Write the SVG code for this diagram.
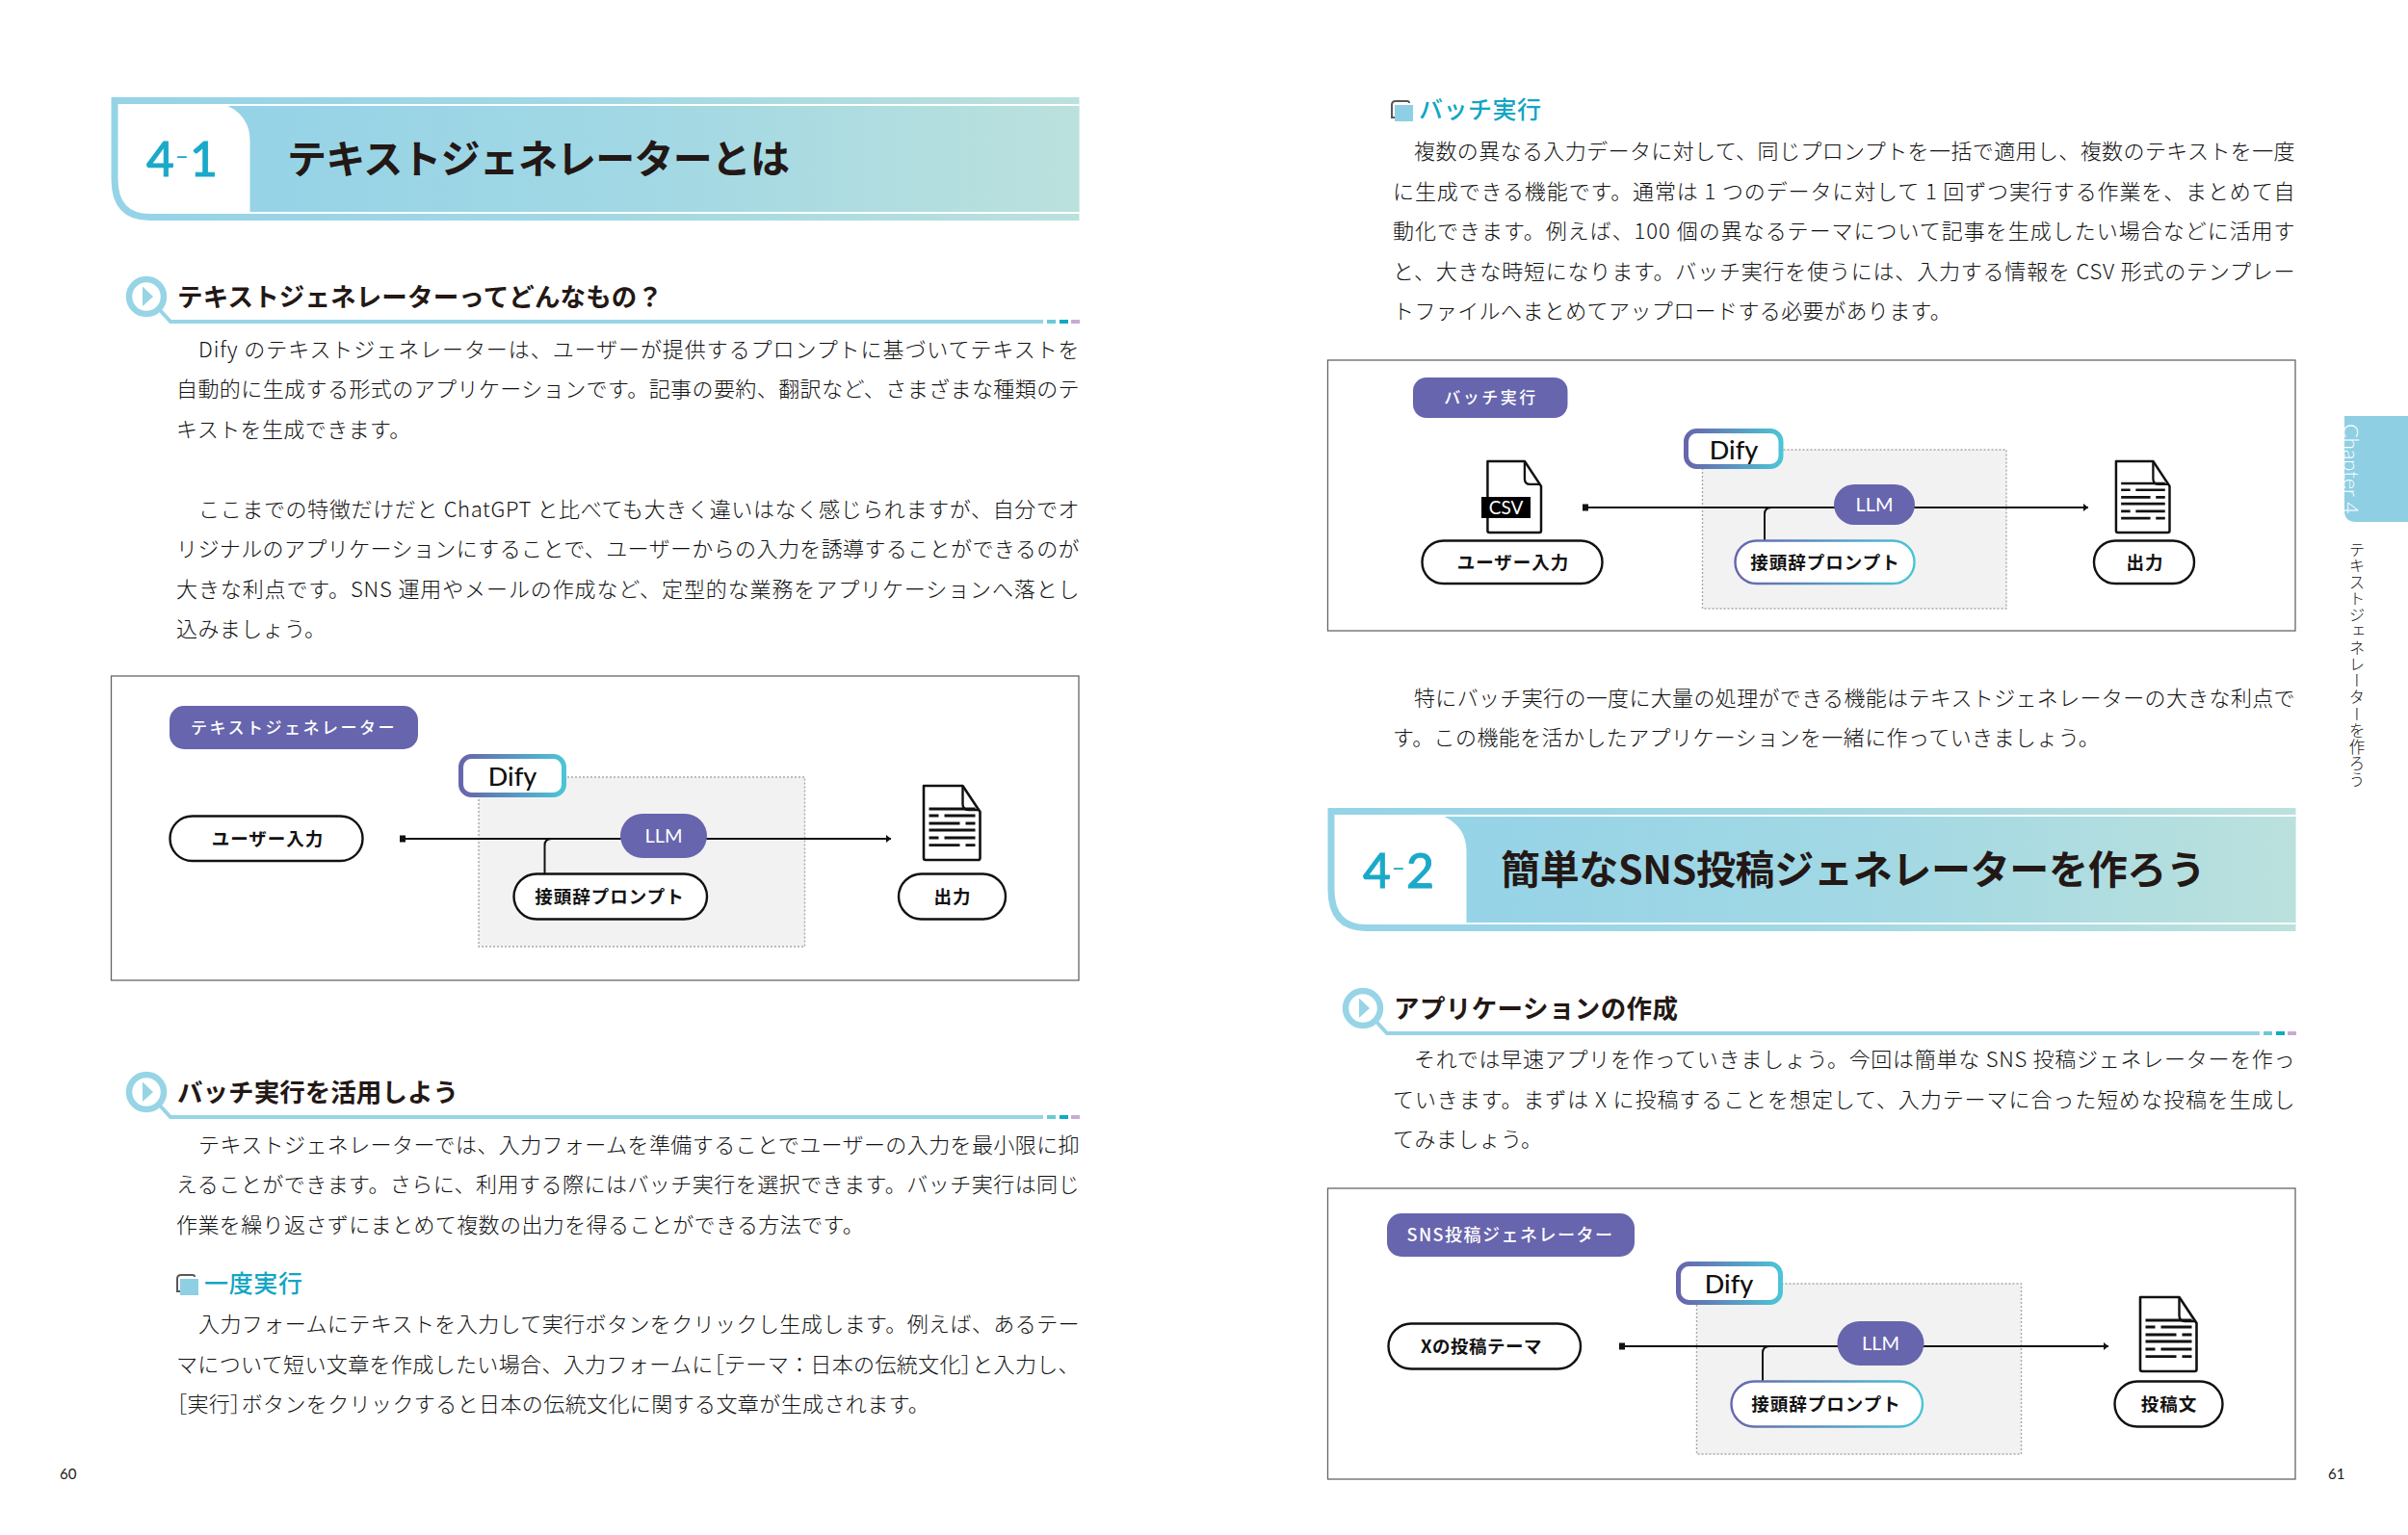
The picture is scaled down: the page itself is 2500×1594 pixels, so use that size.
<svg xmlns="http://www.w3.org/2000/svg" width="2500" height="1594" viewBox="0 0 2500 1594">
<style>
text{font-family:"Noto Sans CJK JP","Noto Sans",sans-serif}
.b{font-size:22px;font-weight:300;fill:#111;letter-spacing:.4px}
.br{font-feature-settings:"palt"}
.t{font-size:41px;font-weight:700;fill:#231815}
.n{font-size:50px;font-family:"Lato","Noto Sans",sans-serif;font-weight:500;fill:#1aa9c8;stroke:#1aa9c8;stroke-width:.8px}
.hy{font-size:42px;stroke:none;font-weight:300}
.h{font-size:26.500px;font-weight:700;fill:#231815}
.s{font-size:25px;font-weight:500;fill:#12a5c4}
.p{font-size:17px;font-weight:500;fill:#fff;text-anchor:middle;letter-spacing:2.500px}
.w{font-size:18.500px;font-weight:700;fill:#111;text-anchor:middle;letter-spacing:1px}
.d{font-size:27px;font-family:"Lato","Noto Sans",sans-serif;font-weight:500;fill:#111;text-anchor:middle}
.l{font-size:20px;font-family:"Lato","Noto Sans",sans-serif;fill:#fff;text-anchor:middle}
.pg{font-size:15px;font-family:"Lato","Noto Sans",sans-serif;fill:#231815}
.box{fill:#fff;stroke:#666;stroke-width:1.300}
.zone{fill:#f2f2f2;stroke:#a8a8a8;stroke-width:1.400;stroke-dasharray:2 2}
.pillp{fill:#6765ad}
.node{fill:#fff;stroke:#111;stroke-width:2.400}
.gnode{fill:#fff;stroke:url(#brand);stroke-width:2.400}
.dify{fill:#fff;stroke:url(#brand);stroke-width:5}
.con{fill:none;stroke:#111;stroke-width:2}
.main{marker-start:url(#sq);marker-end:url(#ar)}
</style>
<defs>
<linearGradient id="band" x1="0" y1="0" x2="1" y2="0"><stop offset="0" stop-color="#95d3e7"/><stop offset="0.5" stop-color="#a2d8e4"/><stop offset="1" stop-color="#bbe1dd"/></linearGradient>
<linearGradient id="brand" x1="0" y1="0" x2="1" y2="0"><stop offset="0" stop-color="#6765ad"/><stop offset="1" stop-color="#4cc4d6"/></linearGradient>
<marker id="sq" markerUnits="userSpaceOnUse" markerWidth="8" markerHeight="8" refX="1" refY="4" orient="auto"><rect x="0" y="0.500" width="6" height="7" fill="#111"/></marker>
<marker id="ar" markerUnits="userSpaceOnUse" markerWidth="6" markerHeight="10" refX="5" refY="5" orient="auto"><path d="M0 1L5 5L0 9Z" fill="#111"/></marker>
<g id="hdr">
<path d="M0 0H1005V128H40Q0 128 0 85Z" fill="url(#band)"/>
<path d="M7 7H1005V121H40Q7 121 7 85Z" fill="#fff"/>
<path d="M121 9H1005V119H144V45Q144 20 121 9Z" fill="url(#band)"/>
</g>
<g id="sec">
<circle cx="0" cy="0" r="18" fill="#fff" stroke="#97d4e6" stroke-width="6.500"/>
<path d="M-4-10.500L7 0L-4 10Z" fill="#97d4e6"/>
<path d="M14 14L25 26H931" fill="none" stroke="#97d4e6" stroke-width="4"/>
<rect x="935" y="24" width="9" height="4" fill="#6cc8d8"/>
<rect x="948" y="24" width="9" height="4" fill="#12a9c6"/>
<rect x="960" y="24" width="9" height="4" fill="#c9abd2"/>
</g>
<g id="ico">
<rect x="5" y="5" width="19" height="17" fill="#8fcfe3"/>
<path d="M2 19V5Q2 1 6 1H18Q20 1 20 3" fill="none" stroke="#595757" stroke-width="2"/>
<path d="M2 18H5" fill="none" stroke="#595757" stroke-width="2"/>
</g>
<g id="docb">
<path d="M1.500 1H42L60 28V76Q60 78 58 78H3.500Q1.500 78 1.500 76Z" fill="#fff" stroke="#111" stroke-width="2.600" stroke-linejoin="round"/>
<path d="M42 1V20Q42 26 48 26H59" fill="none" stroke="#111" stroke-width="2.400"/>
</g>
<g id="doc">
<use href="#docb"/>
<path d="M7 25H55M7 32H17M23 32H55M7 40H39M45 40H55M7 47H55M7 55H17M23 55H55M7 62.700H39M45 62.700H55" stroke="#111" stroke-width="2.800" fill="none"/>
</g>
</defs>
<rect width="2500" height="1594" fill="#fff"/>

<g id="header-4-1"><use href="#hdr" x="115.500" y="101"/>
<text class="n" x="152" y="183">4<tspan class="hy" x="181" dy="-8">-</tspan><tspan x="197" dy="8">1</tspan></text>
<text class="t" x="298" y="180" textLength="522">テキストジェネレーターとは</text></g>

<g id="sec-1"><use href="#sec" x="152" y="308"/><text class="h" x="184" y="318" textLength="504">テキストジェネレーターってどんなもの？</text></g>
<g id="body-1">
<text class="b" x="206" y="371" textLength="915">Dify のテキストジェネレーターは、ユーザーが提供するプロンプトに基づいてテキストを</text>
<text class="b" x="183" y="412" textLength="938">自動的に生成する形式のアプリケーションです。記事の要約、翻訳など、さまざまな種類のテ</text>
<text class="b" x="183" y="454">キストを生成できます。</text>
<text class="b" x="206" y="537" textLength="915">ここまでの特徴だけだと ChatGPT と比べても大きく違いはなく感じられますが、自分でオ</text>
<text class="b" x="183" y="578" textLength="938">リジナルのアプリケーションにすることで、ユーザーからの入力を誘導することができるのが</text>
<text class="b" x="183" y="620" textLength="938">大きな利点です。SNS 運用やメールの作成など、定型的な業務をアプリケーションへ落とし</text>
<text class="b" x="183" y="661">込みましょう。</text>
</g>

<g id="figure-1">
<rect class="box" x="115.500" y="702" width="1004.500" height="316"/>
<rect class="zone" x="497" y="807" width="338.500" height="176"/>
<g id="connectors-1">
<path class="con main" d="M416 871H925"/>
<path class="con" d="M565.500 907V878Q565.500 871 572.500 871"/>
</g>
<g id="n1-title"><rect class="pillp" x="176" y="733" width="258" height="45" rx="15"/><text class="p" x="305" y="762">テキストジェネレーター</text></g>
<g id="n1-dify"><rect class="dify" x="478.500" y="785.500" width="107" height="40" rx="11"/><text class="d" x="532" y="816">Dify</text></g>
<g id="n1-user"><rect class="node" x="176.500" y="847.500" width="200" height="46.500" rx="23"/><text class="w" x="278" y="878">ユーザー入力</text></g>
<g id="n1-llm"><rect class="pillp" x="644" y="845" width="90" height="46" rx="23"/><text class="l" x="689" y="875">LLM</text></g>
<g id="n1-prompt"><rect class="node" x="533.500" y="907.500" width="200.500" height="47" rx="23.500"/><text class="w" x="633" y="938">接頭辞プロンプト</text></g>
<g id="n1-doc"><use href="#doc" x="957.500" y="815"/></g>
<g id="n1-out"><rect class="node" x="933" y="907.500" width="111" height="47" rx="23.500"/><text class="w" x="989" y="938">出力</text></g>
</g>

<g id="sec-2"><use href="#sec" x="152" y="1134"/><text class="h" x="184" y="1144" textLength="292">バッチ実行を活用しよう</text></g>
<g id="body-2">
<text class="b" x="206" y="1197" textLength="915">テキストジェネレーターでは、入力フォームを準備することでユーザーの入力を最小限に抑</text>
<text class="b" x="183" y="1238" textLength="938">えることができます。さらに、利用する際にはバッチ実行を選択できます。バッチ実行は同じ</text>
<text class="b" x="183" y="1280">作業を繰り返さずにまとめて複数の出力を得ることができる方法です。</text>
</g>
<g id="sub-1"><use href="#ico" x="182" y="1323"/><text class="s" x="212" y="1342" textLength="102">一度実行</text></g>
<g id="body-3">
<text class="b" x="206" y="1383" textLength="915">入力フォームにテキストを入力して実行ボタンをクリックし生成します。例えば、あるテー</text>
<text class="b" x="183" y="1425" textLength="938">マについて短い文章を作成したい場合、入力フォームに<tspan class="br">［</tspan>テーマ：日本の伝統文化<tspan class="br">］</tspan>と入力し、</text>
<text class="b" x="183" y="1466"><tspan class="br">［</tspan>実行<tspan class="br">］</tspan>ボタンをクリックすると日本の伝統文化に関する文章が生成されます。</text>
</g>
<text class="pg" x="62" y="1536">60</text>

<g id="sub-2"><use href="#ico" x="1443" y="104"/><text class="s" x="1473" y="123" textLength="127">バッチ実行</text></g>
<g id="body-4">
<text class="b" x="1468" y="165" textLength="915">複数の異なる入力データに対して、同じプロンプトを一括で適用し、複数のテキストを一度</text>
<text class="b" x="1446" y="207" textLength="937">に生成できる機能です。通常は 1 つのデータに対して 1 回ずつ実行する作業を、まとめて自</text>
<text class="b" x="1446" y="248" textLength="937">動化できます。例えば、100 個の異なるテーマについて記事を生成したい場合などに活用す</text>
<text class="b" x="1446" y="290" textLength="937">と、大きな時短になります。バッチ実行を使うには、入力する情報を CSV 形式のテンプレー</text>
<text class="b" x="1446" y="331">トファイルへまとめてアップロードする必要があります。</text>
</g>

<g id="figure-2">
<rect class="box" x="1378.500" y="374" width="1004.500" height="281"/>
<rect class="zone" x="1767.500" y="467" width="315.500" height="165"/>
<g id="connectors-2">
<path class="con main" d="M1644 527H2168"/>
<path class="con" d="M1832 561V534Q1832 527 1839 527"/>
</g>
<g id="n2-title"><rect class="pillp" x="1467" y="392" width="160.500" height="42" rx="14"/><text class="p" x="1548" y="419">バッチ実行</text></g>
<g id="n2-dify"><rect class="dify" x="1750.500" y="447.500" width="98.500" height="37" rx="11"/><text class="d" x="1800" y="477">Dify</text></g>
<g id="n2-doc-in"><use href="#docb" transform="translate(1543 478) scale(.95 .96)"/><rect x="1538" y="516" width="51" height="22" fill="#000"/><text x="1563.500" y="534" text-anchor="middle" fill="#fff" style="font-family:Lato,'Noto Sans',sans-serif;font-size:19px">CSV</text></g>
<g id="n2-user"><rect class="node" x="1476.500" y="561.500" width="187" height="44.500" rx="22"/><text class="w" x="1571" y="591">ユーザー入力</text></g>
<g id="n2-llm"><rect class="pillp" x="1904" y="503" width="84" height="42" rx="21"/><text class="l" x="1946" y="531">LLM</text></g>
<g id="n2-prompt"><rect class="gnode" x="1801.500" y="561.500" width="186" height="44.500" rx="22"/><text class="w" x="1895" y="591">接頭辞プロンプト</text></g>
<g id="n2-doc"><use href="#doc" transform="translate(2195.500 478) scale(.95 .96)"/></g>
<g id="n2-out"><rect class="node" x="2174" y="561.500" width="104" height="44.500" rx="22"/><text class="w" x="2227" y="591">出力</text></g>
</g>

<g id="body-5">
<text class="b" x="1468" y="733" textLength="915">特にバッチ実行の一度に大量の処理ができる機能はテキストジェネレーターの大きな利点で</text>
<text class="b" x="1446" y="774">す。この機能を活かしたアプリケーションを一緒に作っていきましょう。</text>
</g>

<g id="header-4-2"><use href="#hdr" x="1378.500" y="839"/>
<text class="n" x="1415" y="922">4<tspan class="hy" x="1444" dy="-8">-</tspan><tspan x="1460" dy="8">2</tspan></text>
<text class="t" x="1558" y="918" textLength="732">簡単なSNS投稿ジェネレーターを作ろう</text></g>

<g id="sec-3"><use href="#sec" x="1415" y="1047"/><text class="h" x="1447" y="1057" textLength="295">アプリケーションの作成</text></g>
<g id="body-6">
<text class="b" x="1468" y="1108" textLength="915">それでは早速アプリを作っていきましょう。今回は簡単な SNS 投稿ジェネレーターを作っ</text>
<text class="b" x="1446" y="1150" textLength="937">ていきます。まずは X に投稿することを想定して、入力テーマに合った短めな投稿を生成し</text>
<text class="b" x="1446" y="1191">てみましょう。</text>
</g>

<g id="figure-3">
<rect class="box" x="1378.500" y="1234" width="1004.500" height="302"/>
<rect class="zone" x="1761.500" y="1333" width="337" height="177"/>
<g id="connectors-3">
<path class="con main" d="M1682 1398H2189"/>
<path class="con" d="M1830 1434V1405Q1830 1398 1837 1398"/>
</g>
<g id="n3-title"><rect class="pillp" x="1440" y="1260" width="257" height="45" rx="15"/><text class="p" x="1568" y="1289" style="letter-spacing:1.500px;font-size:18px">SNS投稿ジェネレーター</text></g>
<g id="n3-dify"><rect class="dify" x="1742.500" y="1312.500" width="106" height="40" rx="11"/><text class="d" x="1795" y="1343">Dify</text></g>
<g id="n3-user"><rect class="node" x="1441.500" y="1374.500" width="199.500" height="47" rx="23.500"/><text class="w" x="1538" y="1405" style="letter-spacing:.5px">Xの投稿テーマ</text></g>
<g id="n3-llm"><rect class="pillp" x="1907.500" y="1372" width="90" height="46" rx="23"/><text class="l" x="1952.500" y="1402">LLM</text></g>
<g id="n3-prompt"><rect class="gnode" x="1797.500" y="1434.500" width="198.500" height="47" rx="23.500"/><text class="w" x="1896" y="1465">接頭辞プロンプト</text></g>
<g id="n3-doc"><use href="#doc" x="2220.500" y="1346"/></g>
<g id="n3-out"><rect class="node" x="2195.500" y="1434.500" width="112" height="47" rx="23.500"/><text class="w" x="2252" y="1465">投稿文</text></g>
</g>
<text class="pg" x="2417" y="1536">61</text>

<g id="side-tab">
<path d="M2434 432H2500V542H2446Q2434 542 2434 530Z" fill="#8fcfe3"/>
<text transform="translate(2433 440) rotate(90)" style="font-family:Lato,'Noto Sans',sans-serif;font-size:22px;font-weight:300" fill="#fff" textLength="94">Chapter 4</text>
<text x="2447" y="562" style="writing-mode:vertical-rl;font-size:16.500px;font-weight:300;letter-spacing:.6px" fill="#111">テキストジェネレーターを作ろう</text>
</g>
</svg>
